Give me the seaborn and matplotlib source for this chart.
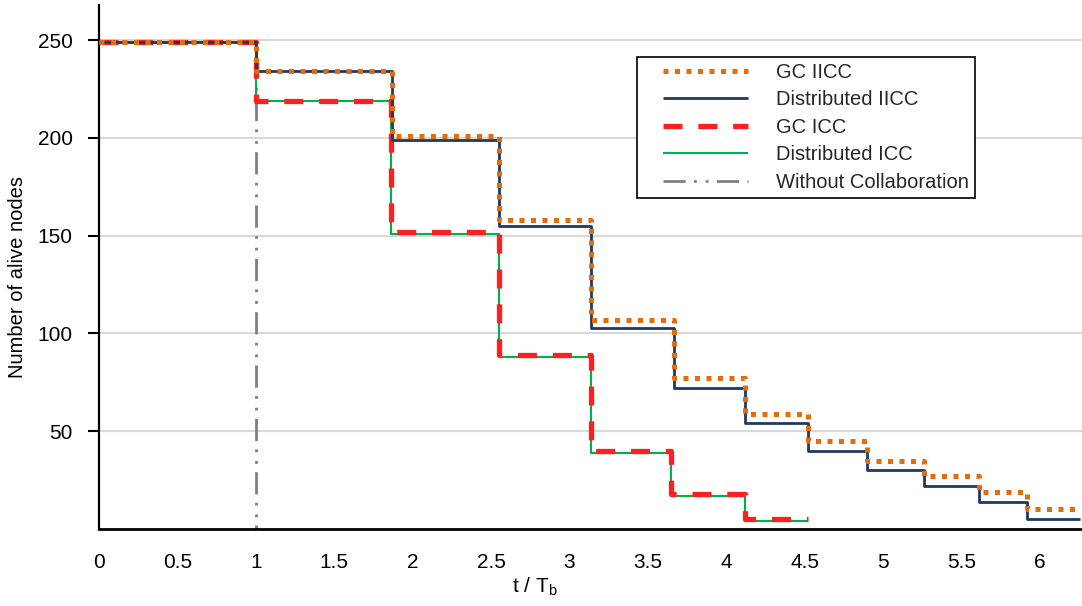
import matplotlib
matplotlib.use("Agg")
import matplotlib.pyplot as plt
import seaborn as sns
import pandas as pd
from matplotlib.legend_handler import HandlerLine2D

# ---- data ----
t_iicc = [0, 1.0, 1.87, 2.55, 3.14, 3.67, 4.12, 4.52, 4.90, 5.26, 5.61, 5.92, 6.26]
n_gc_iicc = [249, 234, 201, 158, 107, 77, 59, 45, 35, 27, 19, 10, 10]
n_dist_iicc = [249, 234, 199, 155, 103, 72, 54, 40, 30, 22, 14, 5, 5]
t_icc = [0, 1.0, 1.86, 2.55, 3.14, 3.65, 4.12, 4.52]
n_gc_icc = [249, 219, 152, 89, 40, 18, 5, 5]
n_dist_icc = [249, 219, 151, 88, 39, 17, 4, 4]
t_nocol = [0, 1.0]
n_nocol = [249, 0]

labels = ["GC IICC", "Distributed IICC", "GC ICC", "Distributed ICC", "Without Collaboration"]
x_ticks = [0, 0.5, 1, 1.5, 2, 2.5, 3, 3.5, 4, 4.5, 5, 5.5, 6]
x_ticklabels = ["0", "0.5", "1", "1.5", "2", "2.5", "3", "3.5", "4", "4.5", "5", "5.5", "6"]
y_ticks = [50, 100, 150, 200, 250]

sns.set_theme(style="white")
FONT = ["Liberation Sans", "DejaVu Sans"]
plt.rcParams["font.family"] = FONT
plt.rcParams["mathtext.fontset"] = "custom"
plt.rcParams["mathtext.rm"] = FONT[0]

fig = plt.figure(figsize=(10.82, 6.06), dpi=100)
ax = fig.add_axes([99 / 1082, 1 - 529 / 606, 1 - 99 / 1082, (529 - 5) / 606])

handles = {}

def draw(x, y, label, **kw):
    df = pd.DataFrame({"t": x, "n": y})
    sns.lineplot(data=df, x="t", y="n", ax=ax, estimator=None, sort=False,
                 drawstyle="steps-post", legend=False, **kw)
    handles[label] = ax.lines[-1]

draw(t_nocol, n_nocol, labels[4], color="#7F7F7F", linewidth=2.0,
     dashes=(8.0, 3.0, 1, 3.2, 1, 3.0), zorder=2)
draw(t_icc, n_dist_icc, labels[3], color="#00B050", linewidth=1.5, zorder=3)
draw(t_icc, n_gc_icc, labels[2], color="#FF1F1F", linewidth=3.8,
     dashes=(3.6, 3.0), zorder=4)
draw(t_iicc, n_dist_iicc, labels[1], color="#1F3864", linewidth=2.0, zorder=5)
draw(t_iicc, n_gc_iicc, labels[0], color="#E46C0A", linewidth=3.6,
     dashes=(1, 1.3), zorder=6)
for ln in ax.lines:
    ln.set_dash_capstyle("butt")
    ln.set_solid_capstyle("butt")

ax.set_xlim(0, 6.27)
ax.set_ylim(0, 268)
ax.set_xticks(x_ticks)
ax.set_xticklabels(x_ticklabels)
ax.set_yticks(y_ticks)
ax.set_yticklabels([str(v) for v in y_ticks])
ax.tick_params(axis="x", length=0, pad=17, labelsize=15, colors="black")
ax.tick_params(axis="y", length=8, width=1.5, direction="out", pad=11,
               labelsize=15, colors="black", left=True)
ax.grid(axis="y", color="#D9D9D9", linewidth=1.5)
ax.grid(axis="x", visible=False)
ax.set_axisbelow(True)
for s in ["top", "right"]:
    ax.spines[s].set_visible(False)
ax.spines["left"].set_color("black")
ax.spines["left"].set_linewidth(1.6)
ax.spines["bottom"].set_color("black")
ax.spines["bottom"].set_linewidth(2.0)

ax.set_xlabel("t / T$_\\mathrm{b}$", fontsize=15, color="black")
ax.xaxis.set_label_coords(0.4435, -0.088)
ax.set_ylabel("Number of alive nodes", fontsize=14.5, color="black")
ax.yaxis.set_label_coords(-0.073, 0.481)

fs = 14.5
leg = ax.legend([handles[l] for l in labels], labels,
                loc="upper left", bbox_to_anchor=(637 / 1082, 1 - 57 / 606),
                bbox_transform=fig.transFigure, borderaxespad=0,
                fontsize=fs, frameon=True, fancybox=False, framealpha=1,
                edgecolor="black", borderpad=0.3, labelspacing=0.42,
                handlelength=5.2, handletextpad=1.4,
                handler_map={ln: HandlerLine2D(xpad=1.0) for ln in handles.values()})
leg.get_frame().set_linewidth(1.2)

fig.savefig("out.png", dpi=100)
